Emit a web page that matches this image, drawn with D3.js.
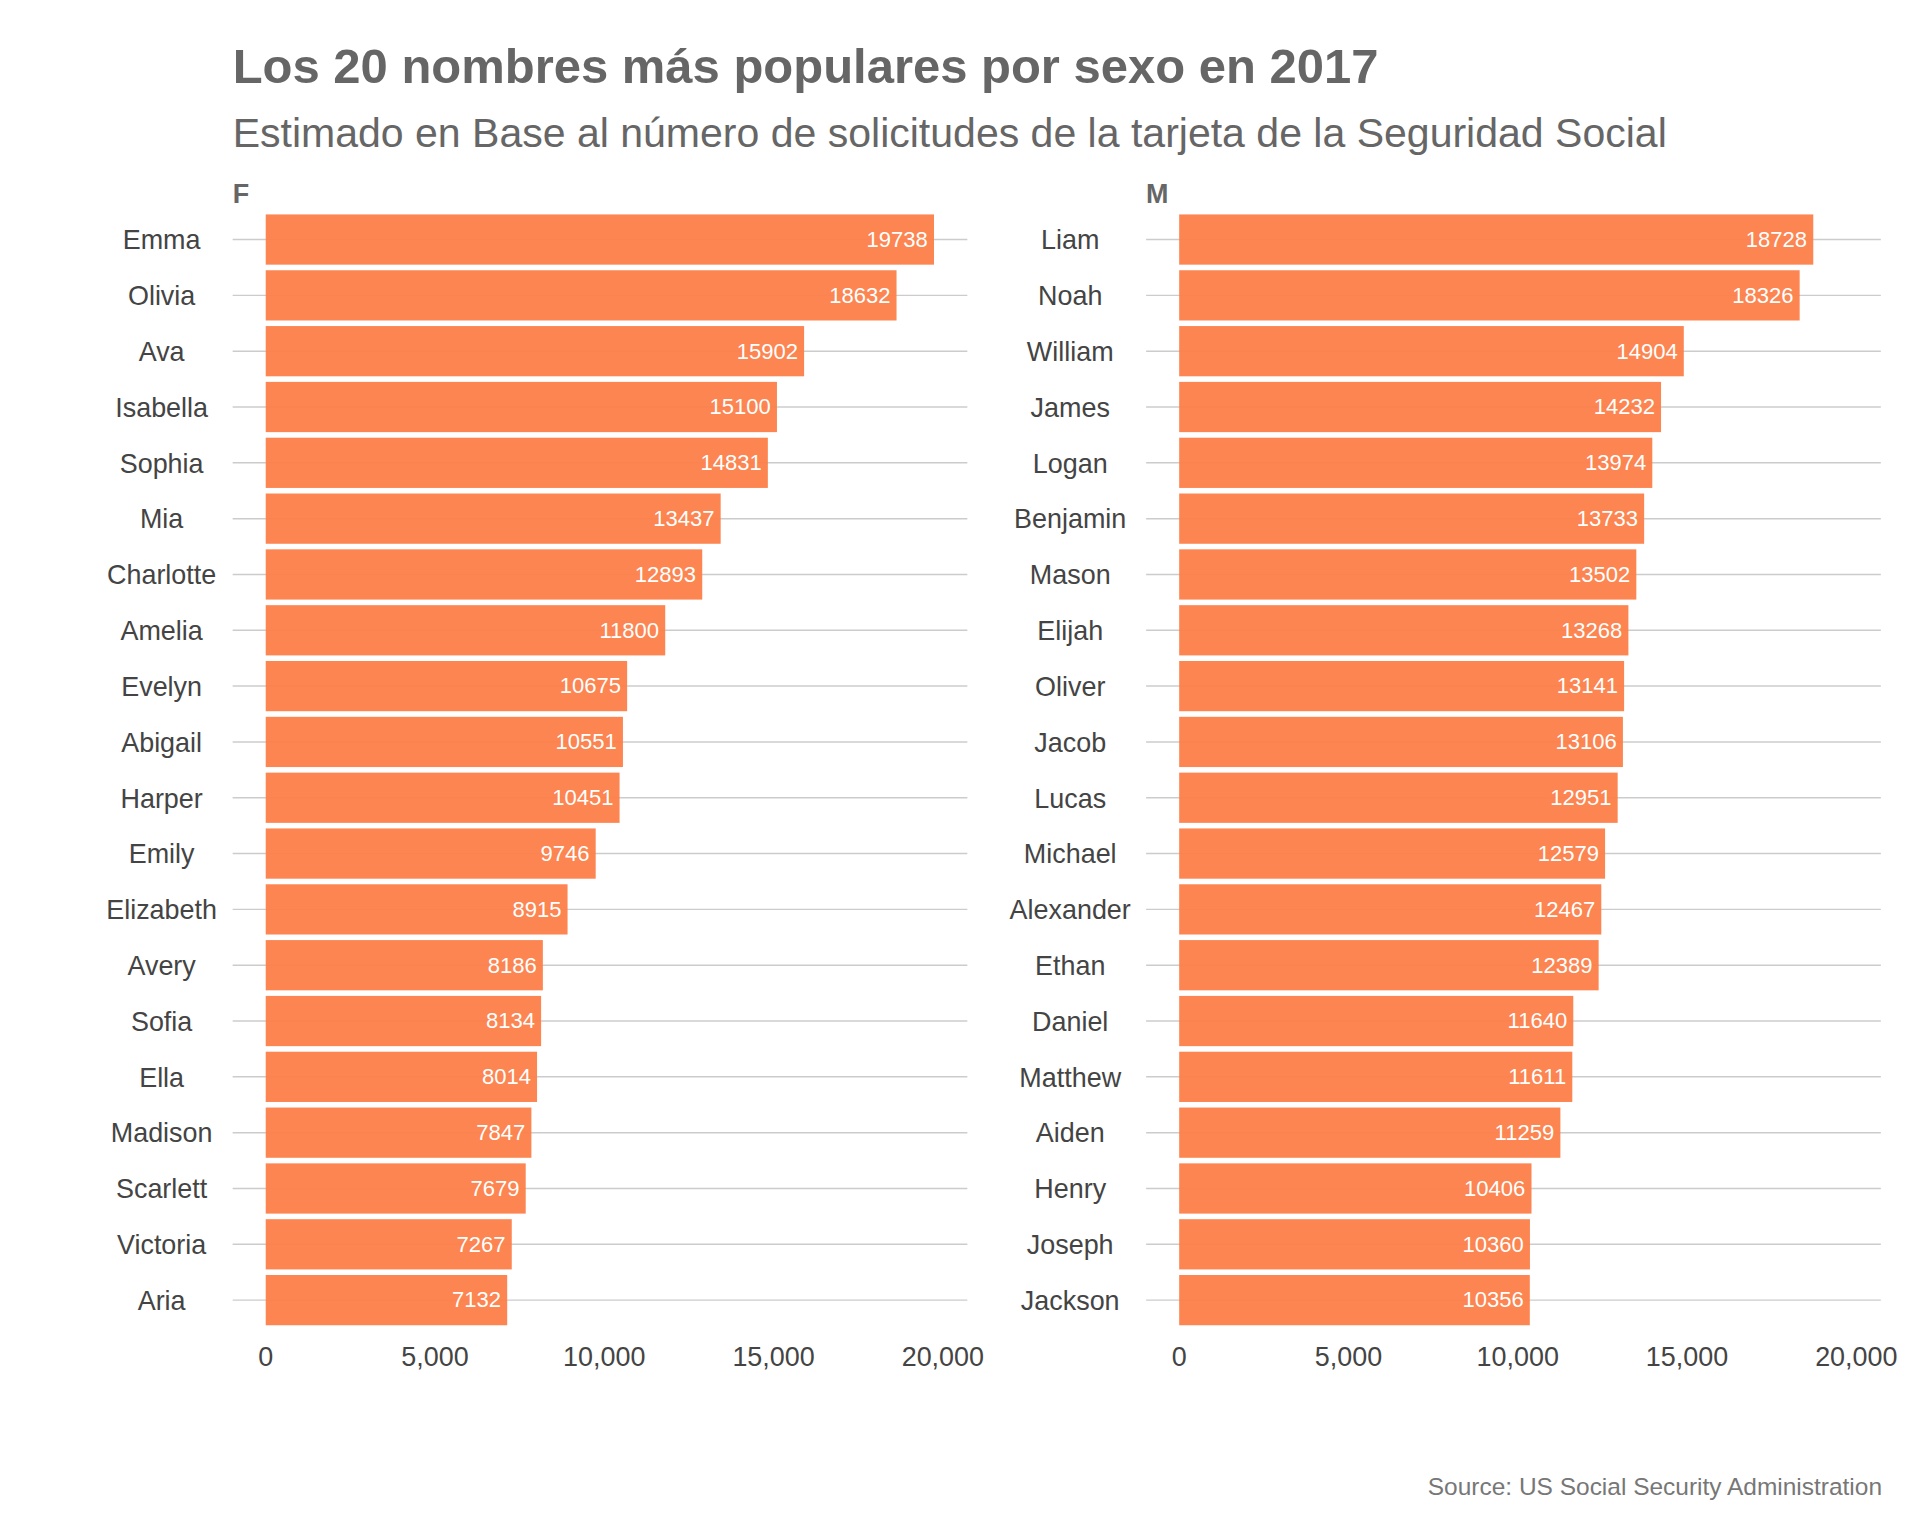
<!DOCTYPE html>
<html><head><meta charset="utf-8">
<script src="https://cdn.jsdelivr.net/npm/d3@7"></script>
<style>body{margin:0;background:#fff}svg{font-family:"Liberation Sans",Arial,sans-serif}</style>
</head><body>
<script>
var namesF = ["Emma","Olivia","Ava","Isabella","Sophia","Mia","Charlotte","Amelia","Evelyn","Abigail","Harper","Emily","Elizabeth","Avery","Sofia","Ella","Madison","Scarlett","Victoria","Aria"];
var valuesF = [19738,18632,15902,15100,14831,13437,12893,11800,10675,10551,10451,9746,8915,8186,8134,8014,7847,7679,7267,7132];
var namesM = ["Liam","Noah","William","James","Logan","Benjamin","Mason","Elijah","Oliver","Jacob","Lucas","Michael","Alexander","Ethan","Daniel","Matthew","Aiden","Henry","Joseph","Jackson"];
var valuesM = [18728,18326,14904,14232,13974,13733,13502,13268,13141,13106,12951,12579,12467,12389,11640,11611,11259,10406,10360,10356];
var ticks = [0,5000,10000,15000,20000];

var svg = d3.select("body").append("svg")
  .attr("width",1920).attr("height",1536)
  .attr("viewBox","0 0 1568 1254");

svg.append("text").attr("x",190).attr("y",68).attr("fill","#666")
  .attr("font-size",40).attr("font-weight","bold")
  .text("Los 20 nombres más populares por sexo en 2017");
svg.append("text").attr("x",190).attr("y",120).attr("fill","#666")
  .attr("font-size",33.5)
  .text("Estimado en Base al número de solicitudes de la tarjeta de la Seguridad Social");
svg.append("text").attr("x",1537).attr("y",1221).attr("fill","#777")
  .attr("font-size",20).attr("text-anchor","end")
  .text("Source: US Social Security Administration");

function panel(label, names, values, gx0, x0, x1, labelX) {
  var g = svg.append("g");
  var x = d3.scaleLinear().domain([0,20000]).range([x0,x1]);
  var y = d3.scaleBand().domain(names).range([174,1083]).paddingInner(0.1).paddingOuter(0.02);
  g.append("text").attr("x",gx0).attr("y",166).attr("fill","#666")
    .attr("font-size",22).attr("font-weight","bold").text(label);
  g.selectAll(".grid").data(names).enter().append("line")
    .attr("x1",gx0).attr("x2",gx0+600)
    .attr("y1",function(d){return y(d)+y.bandwidth()/2;})
    .attr("y2",function(d){return y(d)+y.bandwidth()/2;})
    .attr("stroke","#ccc").attr("stroke-width",1.2);
  g.selectAll("rect").data(values).enter().append("rect")
    .attr("x",x(0)).attr("y",function(d,i){return y(names[i]);})
    .attr("width",function(d){return x(d)-x(0);})
    .attr("height",y.bandwidth()).attr("fill","#fc7e48").attr("fill-opacity",0.95);
  g.selectAll(".val").data(values).enter().append("text")
    .attr("x",function(d){return x(d)-5;})
    .attr("y",function(d,i){return y(names[i])+y.bandwidth()/2+6;})
    .attr("text-anchor","end").attr("fill","#fff").attr("font-size",18)
    .text(function(d){return d;});
  g.selectAll(".nm").data(names).enter().append("text")
    .attr("x",labelX).attr("y",function(d){return y(d)+y.bandwidth()/2+8;})
    .attr("text-anchor","middle").attr("fill","#444").attr("font-size",22)
    .text(function(d){return d;});
  g.selectAll(".tk").data(ticks).enter().append("text")
    .attr("x",function(d){return x(d);}).attr("y",1115)
    .attr("text-anchor","middle").attr("fill","#444").attr("font-size",22)
    .text(function(d){return d3.format(",")(d);});
}
panel("F", namesF, valuesF, 190, 217, 770, 132);
panel("M", namesM, valuesM, 936, 963, 1516, 874);
</script>
</body></html>
